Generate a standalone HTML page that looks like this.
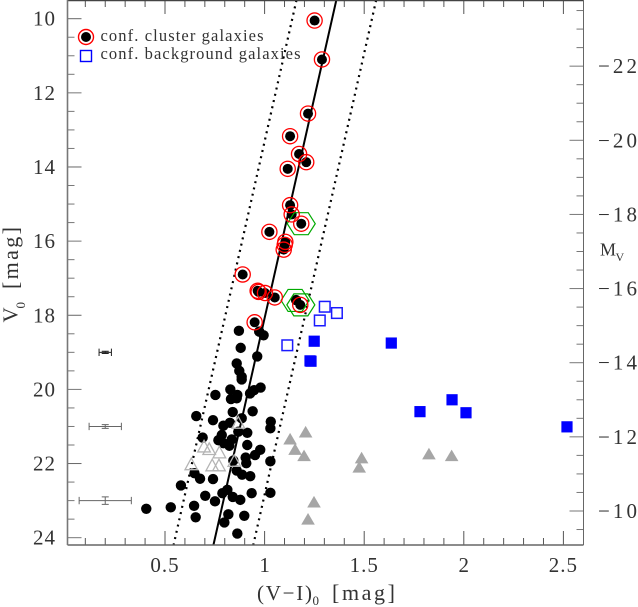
<!DOCTYPE html>
<html lang="en">
<head>
<meta charset="utf-8">
<title>Colour-magnitude diagram</title>
<style>
html,body{margin:0;padding:0;background:#fff;}
svg{display:block;}
text{font-family:"Liberation Serif",serif;fill:#333;}
</style>
</head>
<body>
<svg id="chart" width="638" height="607" viewBox="0 0 638 607" xmlns="http://www.w3.org/2000/svg">
<rect width="638" height="607" fill="#fff"/>
<g id="ticks"></g>
<g id="labels"></g>
<g id="lines"></g>
<g id="errors"></g>
<g id="marks"></g>
<g id="frame"></g>
<g>
  <circle cx="86" cy="37" r="5" fill="#000"/>
  <circle cx="86" cy="37" r="7.5" fill="none" stroke="#f00" stroke-width="1.4"/>
  <text x="100.5" y="41" font-size="16.5" textLength="163" lengthAdjust="spacing">conf. cluster galaxies</text>
  <rect x="80.5" y="50.5" width="11" height="11" fill="none" stroke="#00f" stroke-width="1.4"/>
  <text x="100.5" y="59" font-size="16.5" textLength="200" lengthAdjust="spacing">conf. background galaxies</text>
</g>
<text x="257" y="600" font-size="21" textLength="55" lengthAdjust="spacing">(V−I)</text>
<text x="312.5" y="605" font-size="13">0</text>
<text x="332" y="600" font-size="22" textLength="63" lengthAdjust="spacing">[mag]</text>
<text transform="translate(17.5,322.5) rotate(-90)" font-size="21" x="0" y="0">V</text>
<text transform="translate(25,308.5) rotate(-90)" font-size="13" x="0" y="0">0</text>
<text transform="translate(18,289) rotate(-90)" font-size="22" x="0" y="0" textLength="62" lengthAdjust="spacing">[mag]</text>
<text x="600" y="255.5" font-size="18">M</text>
<text x="615.5" y="261" font-size="12">V</text>
</svg>
<script>
// Data values (colour V-I, magnitude V0)
var clusterColor = [1.251,1.288,1.218,1.128,1.173,1.209,1.116,1.128,1.136,1.184,1.024,1.104,1.101,1.096,0.890,0.965,0.970,1.002,1.051,1.179,0.950];
var clusterMag = [10.05,11.10,12.56,13.17,13.65,13.87,14.05,15.03,15.28,15.53,15.75,16.02,16.10,16.23,16.90,17.34,17.37,17.40,17.52,17.72,18.19];
var hexColor = [1.184,1.153,1.182];
var hexMag = [15.53,17.60,17.72];
var bgOpenColor = [1.302,1.363,1.277,1.114];
var bgOpenMag = [17.77,17.94,18.14,18.81];
var bgFilledColor = [1.249,1.228,1.233,1.636,1.780,1.941,2.011,2.518];
var bgFilledMag = [18.70,19.23,19.24,18.75,20.60,20.28,20.63,21.01];
var grayFilledColor = [1.206,1.128,1.153,1.198,1.248,1.218,1.487,1.475,1.825,1.939];
var grayFilledMag = [21.14,21.33,21.61,21.78,23.03,23.49,21.84,22.09,21.73,21.78];
var grayOpenColor = [0.868,0.696,0.722,0.773,0.632,0.737,0.771,0.848];
var grayOpenMag = [20.89,21.53,21.60,21.69,22.01,22.04,22.04,21.92];
var candColor = [1.158,0.871,0.973,0.995,0.880,0.963,0.860,0.873,0.885,0.885,0.828,0.753,0.863,0.831,0.860,0.980,0.947,0.927,0.940,0.657,0.840,0.741,0.885,0.793,0.826,1.031,1.029,0.868,0.913,0.785,0.768,0.835,0.689,0.793,0.823,0.913,0.978,0.952,0.905,0.908,1.029,0.843,0.860,0.887,0.928,0.648,0.676,0.741,0.580,0.813,0.788,0.935,1.029,0.702,0.840,0.878,0.751,0.646,0.818,0.898,0.654,0.798,0.863,0.529,0.406];
var candMag = [17.59,18.42,18.44,18.54,18.88,19.11,19.30,19.50,19.66,19.73,20.00,20.15,20.15,20.26,20.24,19.95,20.02,20.11,20.59,20.72,20.61,20.83,20.78,20.98,20.90,20.87,21.05,21.14,21.17,21.23,21.37,21.35,21.30,21.45,21.52,21.50,21.63,21.77,21.84,21.99,21.94,21.92,22.19,22.30,22.34,22.26,22.41,22.42,22.59,22.71,22.80,22.80,22.79,22.87,22.90,22.98,23.02,23.14,23.37,23.41,23.45,23.59,23.89,23.18,23.22];
var sequenceMag = [9.5,24.2];
var sequenceColor = [1.36,0.743];
var sequenceOffset = [0.2];
var errorColor = [0.2,0.2,0.2];
var errorMag = [19,21,23];
var errorDx = [0.031,0.081,0.131];
var errorDy = [0.03,0.05,0.1];
var xTickLabels = ['0.5','1','1.5','2','2.5'];
var xTickValues = [0.5,1,1.5,2,2.5];
var yTickValues = [10,12,14,16,18,20,22,24];
var mTickValues = [-22,-20,-18,-16,-14,-12,-10];
var distanceModulus = [33.28];

var NS = 'http://www.w3.org/2000/svg';
function X(c){ return 165 + (c - 0.5) * 199.2; }
function Y(v){ return 18.7 + (v - 10) * 37.07; }
function make(tag, parent, attrs){
  var e = document.createElementNS(NS, tag);
  for (var k in attrs) e.setAttribute(k, attrs[k]);
  parent.appendChild(e);
  return e;
}
var ticks = document.getElementById('ticks');
var labels = document.getElementById('labels');
var lines = document.getElementById('lines');
var errors = document.getElementById('errors');
var marks = document.getElementById('marks');
var frame = document.getElementById('frame');
var AX = '#555';

// frame
var borders = [[67.5,0.5,583.5,0.5,1.5,'#444'],[67.5,545,583.5,545,1.5,'#666'],[67.5,0,67.5,545,1.6,'#777'],[583.5,0,583.5,545,1,'#666']];
borders.forEach(function(b){
  var l = make('line', frame, {x1:b[0],y1:b[1],x2:b[2],y2:b[3],'stroke-width':b[4],stroke:b[5]});
  
  
});

// x ticks (top and bottom)
for (var i = 1; i <= 25; i++) {
  var c = i / 10;
  var major = i % 5 === 0;
  var len = major ? 14 : 7;
  var px = X(c);
  var t1 = make('line', ticks, {x1:px,x2:px,y1:0,y2:len,stroke:AX,'stroke-width':1});
  
  
  var t2 = make('line', ticks, {x1:px,x2:px,y1:545,y2:545-len,stroke:AX,'stroke-width':1});
  
  
}
// left y ticks
for (var j = 0; j <= 28; j++) {
  var v = 10 + j / 2;
  var maj = j % 4 === 0;
  var ty = Y(v);
  var t3 = make('line', ticks, {x1:67.5,x2:67.5+(maj?14:7),y1:ty,y2:ty,stroke:maj&&j%8===0?'#666':'#777','stroke-width':1});
  
  
}
// right magnitude ticks
for (var m = -23.5; m <= -9.5; m += 0.5) {
  var majM = (m % 2 === 0);
  var my = Y(m + distanceModulus[0]);
  var t4 = make('line', ticks, {x1:583.5,x2:583.5-(majM?14:7),y1:my,y2:my,stroke:'#777','stroke-width':1});
  
  
}
// tick labels
xTickValues.forEach(function(val, i){
  var t = make('text', labels, {x:X(val),y:572,'font-size':21,'text-anchor':'middle','letter-spacing':xTickLabels[i].length>1?1:0});
  
  
  t.textContent = xTickLabels[i];
});
yTickValues.forEach(function(val){
  var t = make('text', labels, {x:33,y:Y(val)+7,'font-size':21,textLength:22,lengthAdjust:'spacing'});
  
  
  t.textContent = String(val);
});
mTickValues.forEach(function(val){
  var ly = Y(val + distanceModulus[0]);
  var t = make('text', labels, {x:598,y:ly+7,'font-size':21,textLength:39,lengthAdjust:'spacing'});
  
  
  t.textContent = '\u2212' + Math.abs(val);
});

// sequence lines
var seq = make('line', lines, {x1:X(sequenceColor[0]),y1:Y(sequenceMag[0]),x2:X(sequenceColor[1]),y2:Y(sequenceMag[1]),stroke:'#000','stroke-width':2});


[-1,1].forEach(function(s){
  var d = s * sequenceOffset[0];
  var l = make('line', lines, {x1:X(sequenceColor[0]+d),y1:Y(sequenceMag[0]),x2:X(sequenceColor[1]+d),y2:Y(sequenceMag[1]),stroke:'#000','stroke-width':2.2,'stroke-dasharray':'2 4.4'});
  
  
});

// black dots
function dot(c, v, name, r){
  var e = make('circle', marks, {cx:X(c),cy:Y(v),r:r,fill:'#000'});
  
  
}
candColor.forEach(function(c,i){ dot(c, candMag[i], 'candidate-galaxy', 5.2); });
clusterColor.forEach(function(c,i){ dot(c, clusterMag[i], 'cluster-galaxy', 5); });

// triangles
function triangle(c, v, filled, name){
  var x = X(c), y = Y(v);
  var hw = filled ? 6.8 : 6.3;
  var pts = (x-hw)+','+(y+5.8)+' '+(x+hw)+','+(y+5.8)+' '+x+','+(y-5.8);
  var e = make('polygon', marks, {points:pts,fill:filled?'#a6a6a6':'none',stroke:filled?'none':'#b4b4b4','stroke-width':1.3});
  
  
}
grayOpenColor.forEach(function(c,i){ triangle(c, grayOpenMag[i], false, 'open-gray-triangle'); });
grayFilledColor.forEach(function(c,i){ triangle(c, grayFilledMag[i], true, 'filled-gray-triangle'); });

// green hexagons
hexColor.forEach(function(c,i){
  var x = X(c), y = Y(hexMag[i]);
  var pts = (x-14)+','+y+' '+(x-7)+','+(y-11)+' '+(x+7)+','+(y-11)+' '+(x+14)+','+y+' '+(x+7)+','+(y+11)+' '+(x-7)+','+(y+11);
  var e = make('polygon', marks, {points:pts,fill:'none',stroke:'#0a0','stroke-width':1.2});
  
  
});

// red rings
clusterColor.forEach(function(c,i){
  var e = make('circle', marks, {cx:X(c),cy:Y(clusterMag[i]),r:7.6,fill:'none',stroke:'#f00','stroke-width':1.3});
  
  
});

// squares
bgOpenColor.forEach(function(c,i){
  var e = make('rect', marks, {x:X(c)-5.3,y:Y(bgOpenMag[i])-5.3,width:10.6,height:10.6,fill:'none',stroke:'#1a1aff','stroke-width':1.5});
  
  
});
bgFilledColor.forEach(function(c,i){
  var e = make('rect', marks, {x:X(c)-5.6,y:Y(bgFilledMag[i])-5.6,width:11.2,height:11.2,fill:'#00f'});
  
  
});

// error bars
errorMag.forEach(function(v,i){
  var cx = X(errorColor[i]), cy = Y(v);
  var x0 = X(errorColor[i]-errorDx[i]), x1 = X(errorColor[i]+errorDx[i]);
  var y0 = Y(v-errorDy[i]), y1 = Y(v+errorDy[i]);
  var col = i === 0 ? '#222' : '#666';
  var d = 'M'+x0+' '+cy+'H'+x1+'M'+x0+' '+(cy-3.7)+'V'+(cy+3.7)+'M'+x1+' '+(cy-3.7)+'V'+(cy+3.7)+
          'M'+cx+' '+y0+'V'+y1+'M'+(cx-3.5)+' '+y0+'H'+(cx+3.5)+'M'+(cx-3.5)+' '+y1+'H'+(cx+3.5);
  var e = make('path', errors, {d:d,fill:'none',stroke:col,'stroke-width':1});
  
  
});
</script>
</body>
</html>
